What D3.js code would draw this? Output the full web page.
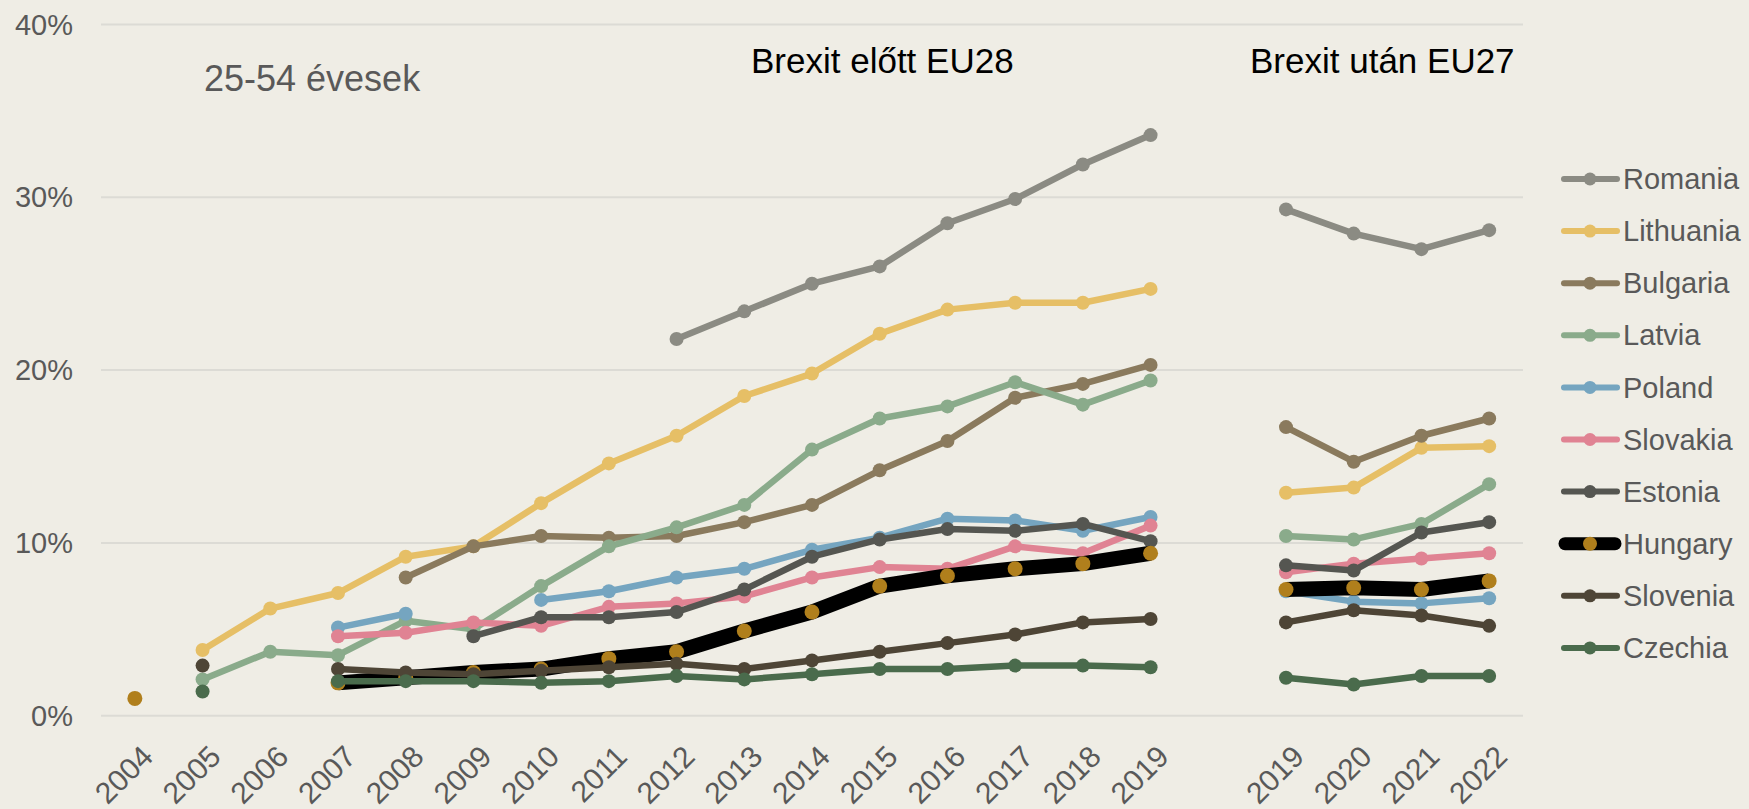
<!DOCTYPE html>
<html>
<head>
<meta charset="utf-8">
<script src="https://cdn.jsdelivr.net/npm/d3@7"></script>
<style>
  body { margin: 0; background: #efede5; }
  svg { display: block; font-family: "Liberation Sans", Arial, sans-serif; }
</style>
</head>
<body>
<script>
// categories: EU28 years, an empty slot, then EU27 years
var yearsEU28 = ["2004", "2005", "2006", "2007", "2008", "2009", "2010", "2011",
                 "2012", "2013", "2014", "2015", "2016", "2017", "2018", "2019"];
var yearsEU27 = ["2019", "2020", "2021", "2022"];
var yTicks = [0, 10, 20, 30, 40];

var countries = ["Romania", "Lithuania", "Bulgaria", "Latvia", "Poland",
                 "Slovakia", "Estonia", "Hungary", "Slovenia", "Czechia"];
var colors = ["#8b8b83", "#e6bf66", "#8a7a5d", "#8aab8b", "#75a5c0",
              "#e08393", "#555651", "#000000", "#4e4536", "#4a6b4c"];

// values in %, 2004..2019 (EU28) and 2019..2022 (EU27)
var romaniaEU28   = [null, null, null, null, null, null, null, null, 21.8, 23.4, 25.0, 26.0, 28.5, 29.9, 31.9, 33.6];
var lithuaniaEU28 = [null, 3.8, 6.2, 7.1, 9.2, 9.8, 12.3, 14.6, 16.2, 18.5, 19.8, 22.1, 23.5, 23.9, 23.9, 24.7];
var bulgariaEU28  = [null, null, null, null, 8.0, 9.8, 10.4, 10.3, 10.4, 11.2, 12.2, 14.2, 15.9, 18.4, 19.2, 20.3];
var latviaEU28    = [null, 2.1, 3.7, 3.5, 5.5, 5.0, 7.5, 9.8, 10.9, 12.2, 15.4, 17.2, 17.9, 19.3, 18.0, 19.4];
var polandEU28    = [null, null, null, 5.1, 5.9, null, 6.7, 7.2, 8.0, 8.5, 9.6, 10.3, 11.4, 11.3, 10.7, 11.5];
var slovakiaEU28  = [null, null, null, 4.6, 4.8, 5.4, 5.2, 6.3, 6.5, 6.9, 8.0, 8.6, 8.5, 9.8, 9.4, 11.0];
var estoniaEU28   = [null, null, null, null, null, 4.6, 5.7, 5.7, 6.0, 7.3, 9.2, 10.2, 10.8, 10.7, 11.1, 10.1];
var hungaryEU28   = [1.0, null, null, 1.9, 2.2, 2.5, 2.7, 3.3, 3.7, 4.9, 6.0, 7.5, 8.1, 8.5, 8.8, 9.4];
var sloveniaEU28  = [null, 2.9, null, 2.7, 2.5, 2.4, 2.6, 2.8, 3.0, 2.7, 3.2, 3.7, 4.2, 4.7, 5.4, 5.6];
var czechiaEU28   = [null, 1.4, null, 2.0, 2.0, 2.0, 1.9, 2.0, 2.3, 2.1, 2.4, 2.7, 2.7, 2.9, 2.9, 2.8];

var romaniaEU27   = [29.3, 27.9, 27.0, 28.1];
var lithuaniaEU27 = [12.9, 13.2, 15.5, 15.6];
var bulgariaEU27  = [16.7, 14.7, 16.2, 17.2];
var latviaEU27    = [10.4, 10.2, 11.1, 13.4];
var polandEU27    = [7.2, 6.6, 6.5, 6.8];
var slovakiaEU27  = [8.3, 8.8, 9.1, 9.4];
var estoniaEU27   = [8.7, 8.4, 10.6, 11.2];
var hungaryEU27   = [7.3, 7.4, 7.3, 7.8];
var sloveniaEU27  = [5.4, 6.1, 5.8, 5.2];
var czechiaEU27   = [2.2, 1.8, 2.3, 2.3];

var eu28 = [romaniaEU28, lithuaniaEU28, bulgariaEU28, latviaEU28, polandEU28,
            slovakiaEU28, estoniaEU28, hungaryEU28, sloveniaEU28, czechiaEU28];
var eu27 = [romaniaEU27, lithuaniaEU27, bulgariaEU27, latviaEU27, polandEU27,
            slovakiaEU27, estoniaEU27, hungaryEU27, sloveniaEU27, czechiaEU27];

var width = 1749, height = 809;
var textGray = "#595959";

var svg = d3.select("body")
  .append("svg")
    .attr("width", width)
    .attr("height", height);

// one slot per category; keys keep the two 2019s apart
var keys = yearsEU28.map(function(d) { return "a" + d; })
  .concat(["gap"])
  .concat(yearsEU27.map(function(d) { return "b" + d; }));

var x = d3.scalePoint()
    .domain(keys)
    .range([101, 1523])
    .padding(0.5);

var y = d3.scaleLinear()
    .domain([0, 40])
    .range([715.7, 24.5]);

// gridlines
svg.append("g")
  .selectAll("line")
  .data(yTicks)
  .enter().append("line")
    .attr("x1", 101)
    .attr("x2", 1523)
    .attr("y1", function(d) { return y(d); })
    .attr("y2", function(d) { return y(d); })
    .attr("stroke", "#dcdbd5")
    .attr("stroke-width", 2);

// y axis labels
svg.append("g")
  .selectAll("text")
  .data(yTicks)
  .enter().append("text")
    .attr("x", 73)
    .attr("y", function(d) { return y(d); })
    .attr("dy", "0.35em")
    .attr("text-anchor", "end")
    .attr("font-size", 29)
    .attr("fill", textGray)
    .text(function(d) { return d + "%"; });

// x axis labels, rotated
svg.append("g")
  .selectAll("text")
  .data(keys.filter(function(k) { return k !== "gap"; }))
  .enter().append("text")
    .attr("transform", function(d) { return "translate(" + (x(d) + 12.5) + ",751) rotate(-45)"; })
    .attr("dy", "0.35em")
    .attr("text-anchor", "end")
    .attr("font-size", 30)
    .attr("fill", textGray)
    .text(function(d) { return d.slice(1); });

// series
var line = d3.line()
    .defined(function(d) { return d.v !== null; })
    .x(function(d) { return x(d.k); })
    .y(function(d) { return y(d.v); });

var series = countries.map(function(name, i) {
  return {
    name: name,
    color: colors[i],
    hungary: name === "Hungary",
    before: eu28[i].map(function(v, j) { return {k: "a" + yearsEU28[j], v: v}; }),
    after: eu27[i].map(function(v, j) { return {k: "b" + yearsEU27[j], v: v}; })
  };
});

var g = svg.append("g")
  .selectAll("g")
  .data(series)
  .enter().append("g");

g.selectAll("path")
  .data(function(s) { return [s.before, s.after].map(function(p) { return {s: s, pts: p}; }); })
  .enter().append("path")
    .attr("d", function(d) { return line(d.pts); })
    .attr("fill", "none")
    .attr("stroke", function(d) { return d.s.color; })
    .attr("stroke-width", function(d) { return d.s.hungary ? 15 : 6.5; })
    .attr("stroke-linejoin", "round")
    .attr("stroke-linecap", function(d) { return d.s.hungary ? "butt" : "round"; });

g.selectAll("circle")
  .data(function(s) {
    return s.before.concat(s.after)
      .filter(function(p) { return p.v !== null; })
      .map(function(p) { return {s: s, k: p.k, v: p.v}; });
  })
  .enter().append("circle")
    .attr("cx", function(d) { return x(d.k); })
    .attr("cy", function(d) { return y(d.v); })
    .attr("r", function(d) { return d.s.hungary ? 7.5 : 7; })
    .attr("fill", function(d) { return d.s.hungary ? "#b07f1c" : d.s.color; });

// legend
var legend = svg.append("g")
  .selectAll("g")
  .data(series)
  .enter().append("g")
    .attr("transform", function(d, i) { return "translate(1590," + (179 + i * 52.1) + ")"; });

legend.append("line")
    .attr("x1", function(d) { return d.hungary ? -25 : -26; })
    .attr("x2", function(d) { return d.hungary ? 25 : 27; })
    .attr("stroke", function(d) { return d.color; })
    .attr("stroke-width", function(d) { return d.hungary ? 13 : 6; })
    .attr("stroke-linecap", "round");

legend.append("circle")
    .attr("r", function(d) { return d.hungary ? 7 : 6.5; })
    .attr("fill", function(d) { return d.hungary ? "#b07f1c" : d.color; });

legend.append("text")
    .attr("x", 33)
    .attr("dy", "0.35em")
    .attr("font-size", 29)
    .attr("fill", textGray)
    .text(function(d) { return d.name; });

// titles
svg.append("text")
    .attr("x", 204)
    .attr("y", 91)
    .attr("font-size", 36)
    .attr("fill", textGray)
    .text("25-54 évesek");

svg.append("text")
    .attr("x", 751)
    .attr("y", 73)
    .attr("font-size", 35)
    .attr("fill", "#000")
    .text("Brexit előtt EU28");

svg.append("text")
    .attr("x", 1250)
    .attr("y", 73)
    .attr("font-size", 35)
    .attr("fill", "#000")
    .text("Brexit után EU27");
</script>
</body>
</html>
